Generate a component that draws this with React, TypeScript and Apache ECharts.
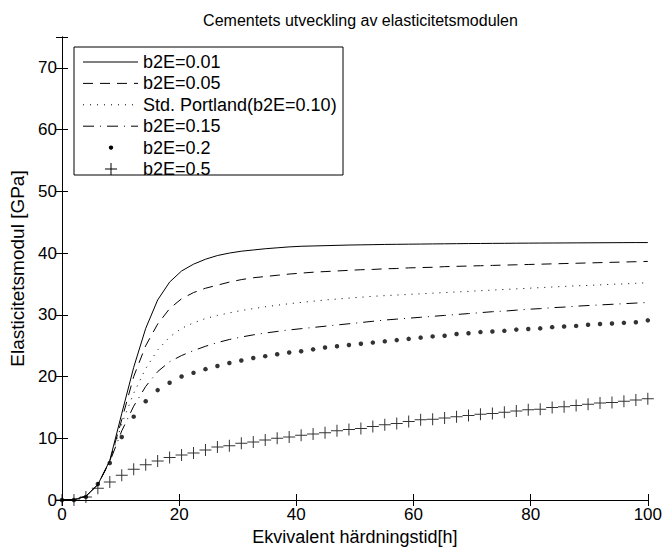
import React, { useEffect, useRef } from 'react';
import * as echarts from 'echarts';

// Equivalent hardening time [h] (sample grid of the plotted curves)
const hours = [0, 2.04, 4.08, 6.12, 8.16, 10.2, 12.24, 14.29, 16.33, 18.37, 20.41, 22.45, 24.49, 26.53, 28.57, 30.61, 32.65, 34.69, 36.73, 38.78, 40.82, 42.86, 44.9, 46.94, 48.98, 51.02, 53.06, 55.1, 57.14, 59.18, 61.22, 63.27, 65.31, 67.35, 69.39, 71.43, 73.47, 75.51, 77.55, 79.59, 81.63, 83.67, 85.71, 87.76, 89.8, 91.84, 93.88, 95.92, 97.96, 100];

// Elasticity modulus [GPa]
const e001 = [0, 0.05, 0.6, 2.5, 6.4, 14.0, 21.5, 27.8, 32.4, 35.3, 37.1, 38.2, 39.0, 39.6, 40.0, 40.3, 40.5, 40.7, 40.85, 41.0, 41.1, 41.15, 41.2, 41.25, 41.3, 41.33, 41.36, 41.4, 41.42, 41.44, 41.46, 41.48, 41.5, 41.52, 41.54, 41.55, 41.57, 41.58, 41.6, 41.61, 41.62, 41.63, 41.64, 41.65, 41.66, 41.67, 41.68, 41.69, 41.7, 41.7];
const e005 = [0, 0.05, 0.6, 2.5, 6.3, 13.0, 20.0, 25.0, 28.5, 31.0, 32.6, 33.6, 34.3, 34.8, 35.3, 35.7, 36.0, 36.2, 36.4, 36.6, 36.75, 36.9, 37.0, 37.1, 37.2, 37.3, 37.35, 37.45, 37.5, 37.6, 37.65, 37.7, 37.8, 37.85, 37.9, 37.95, 38.0, 38.05, 38.1, 38.15, 38.2, 38.25, 38.3, 38.35, 38.4, 38.45, 38.5, 38.55, 38.6, 38.65];
const e010 = [0, 0.05, 0.6, 2.5, 6.3, 12.3, 17.3, 21.3, 24.3, 26.4, 27.8, 28.7, 29.4, 29.9, 30.3, 30.7, 31.0, 31.3, 31.55, 31.8, 32.0, 32.2, 32.4, 32.55, 32.7, 32.85, 33.0, 33.1, 33.2, 33.3, 33.4, 33.5, 33.6, 33.7, 33.8, 33.9, 34.0, 34.1, 34.2, 34.3, 34.4, 34.5, 34.6, 34.7, 34.75, 34.85, 34.95, 35.0, 35.1, 35.2];
const e015 = [0, 0.05, 0.6, 2.5, 6.2, 11.2, 15.2, 18.4, 20.8, 22.4, 23.4, 24.2, 24.9, 25.5, 26.0, 26.4, 26.75, 27.05, 27.3, 27.55, 27.75, 27.95, 28.15, 28.35, 28.55, 28.75, 28.95, 29.15, 29.3, 29.45, 29.6, 29.75, 29.9, 30.05, 30.2, 30.35, 30.5, 30.6, 30.75, 30.9, 31.0, 31.15, 31.25, 31.4, 31.5, 31.6, 31.7, 31.8, 31.9, 32.0];
const e020 = [0, 0.0, 0.5, 2.6, 6.0, 10.2, 13.5, 16.0, 17.8, 19.0, 20.0, 20.6, 21.2, 21.7, 22.2, 22.6, 23.0, 23.3, 23.6, 23.9, 24.1, 24.4, 24.7, 24.9, 25.1, 25.3, 25.5, 25.7, 25.9, 26.1, 26.3, 26.5, 26.6, 26.9, 27.0, 27.2, 27.3, 27.4, 27.6, 27.7, 27.8, 28.0, 28.1, 28.2, 28.4, 28.5, 28.6, 28.7, 28.8, 29.1];
const e050 = [0, 0, 0.5, 1.9, 2.9, 4.0, 5.0, 5.7, 6.3, 6.9, 7.3, 7.6, 8.1, 8.6, 8.8, 9.2, 9.4, 9.7, 10.0, 10.2, 10.5, 10.7, 10.9, 11.2, 11.4, 11.6, 11.9, 12.2, 12.4, 12.7, 13.0, 13.1, 13.3, 13.5, 13.7, 13.9, 14.0, 14.2, 14.4, 14.6, 14.7, 15.0, 15.1, 15.3, 15.5, 15.7, 15.8, 16.0, 16.2, 16.4];

const legendLabels = ['b2E=0.01', 'b2E=0.05', 'Std. Portland(b2E=0.10)', 'b2E=0.15', 'b2E=0.2', 'b2E=0.5'];
const xTicks = [0, 20, 40, 60, 80, 100];
const yTicks = [0, 10, 20, 30, 40, 50, 60, 70];

const FONT = '"Liberation Sans", Arial, Helvetica, sans-serif';
const PLUS = 'path://M5.5,0H6.5V5.5H12V6.5H6.5V12H5.5V6.5H0V5.5H5.5Z';

const pairs = (ys: number[]) => hours.map((h, i) => [h, ys[i]]);

export default function App() {
  const ref = useRef<HTMLDivElement>(null);
  useEffect(() => {
    if (!ref.current) return;
    const chart = echarts.init(ref.current, undefined, { renderer: 'svg' });

    const axisCommon = {
      axisLine: { show: true, lineStyle: { color: '#000', width: 1 } },
      axisTick: { show: true, inside: true, length: 6, lineStyle: { color: '#000' } },
      splitLine: { show: false },
    };

    const dashes: any[] = ['solid', [10, 7], [1, 6], [11, 6, 1, 6]];
    const lineSeries = [e001, e005, e010, e015].map((ys, k) => ({
      type: 'line',
      name: legendLabels[k],
      data: pairs(ys),
      symbol: 'none',
      smooth: false,
      lineStyle: { color: '#000', width: 1, type: dashes[k] },
      z: 3,
    }));

    // manual legend
    const lx = 74, ly = 47, lw = 269, lh = 128;
    const rowY = (i: number) => ly + 15 + i * 21.4;
    const legendEls: any[] = [
      { type: 'rect', shape: { x: lx, y: ly, width: lw, height: lh }, style: { fill: '#fff', stroke: '#000', lineWidth: 1 }, z: 100 },
    ];
    legendLabels.forEach((lab, i) => {
      const y = rowY(i);
      if (i < 4) {
        legendEls.push({
          type: 'line',
          shape: { x1: 83, y1: y, x2: 138, y2: y },
          style: { stroke: '#000', lineWidth: 1, lineDash: i === 0 ? null : dashes[i] },
          z: 101,
        });
      } else if (i === 4) {
        legendEls.push({ type: 'circle', shape: { cx: 111, cy: y, r: 2.2 }, style: { fill: '#000' }, z: 101 });
      } else {
        legendEls.push({ type: 'line', shape: { x1: 105, y1: y, x2: 117, y2: y }, style: { stroke: '#000', lineWidth: 1 }, z: 101 });
        legendEls.push({ type: 'line', shape: { x1: 111, y1: y - 6, x2: 111, y2: y + 6 }, style: { stroke: '#000', lineWidth: 1 }, z: 101 });
      }
      legendEls.push({
        type: 'text',
        x: 143,
        y: y,
        style: { text: lab, fill: '#000', font: `18px ${FONT}`, textVerticalAlign: 'middle', textAlign: 'left' },
        z: 101,
      });
    });

    chart.setOption({
      animation: false,
      textStyle: { fontFamily: FONT },
      title: {
        text: 'Cementets utveckling av elasticitetsmodulen',
        left: 355.5,
        textAlign: 'center',
        top: 7,
        textStyle: { fontSize: 16, fontWeight: 'normal', color: '#000', fontFamily: FONT },
      },
      grid: { left: 62, right: 16, top: 37, bottom: 52, containLabel: false },
      xAxis: [
        {
          type: 'value', min: xTicks[0], max: xTicks[xTicks.length - 1], interval: 20, position: 'bottom',
          name: 'Ekvivalent härdningstid[h]', nameLocation: 'middle', nameGap: 26,
          nameTextStyle: { fontSize: 18, color: '#000', fontFamily: FONT },
          axisLabel: { color: '#000', fontSize: 17, margin: 6, fontFamily: FONT },
          ...axisCommon,
        },
        {
          type: 'value', min: xTicks[0], max: xTicks[xTicks.length - 1], interval: 20, position: 'top',
          axisLabel: { show: false },
          ...axisCommon,
        },
      ],
      yAxis: [
        {
          type: 'value', min: yTicks[0], max: 75, interval: 10, position: 'left',
          name: 'Elasticitetsmodul [GPa]', nameLocation: 'middle', nameGap: 23,
          nameTextStyle: { fontSize: 19, color: '#000', fontFamily: FONT },
          axisLabel: {
            color: '#000', fontSize: 17, margin: 5, fontFamily: FONT,
            formatter: (v: number) => (yTicks.indexOf(v) >= 0 ? String(v) : ''),
          },
          ...axisCommon,
        },
        {
          type: 'value', min: yTicks[0], max: 75, interval: 10, position: 'right',
          axisLabel: { show: false },
          ...axisCommon,
        },
      ],
      series: [
        ...lineSeries,
        {
          type: 'scatter', name: legendLabels[4], data: pairs(e020),
          symbol: 'circle', symbolSize: 4.5, itemStyle: { color: '#000' }, z: 4,
        },
        {
          type: 'scatter', name: legendLabels[5], data: pairs(e050),
          symbol: PLUS, symbolSize: 12, itemStyle: { color: '#000' }, z: 4,
        },
      ],
      graphic: legendEls,
    });
    return () => chart.dispose();
  }, []);
  return <div ref={ref} style={{ position: 'fixed', left: 0, top: 0, width: 665, height: 552, background: '#fff' }} />;
}
